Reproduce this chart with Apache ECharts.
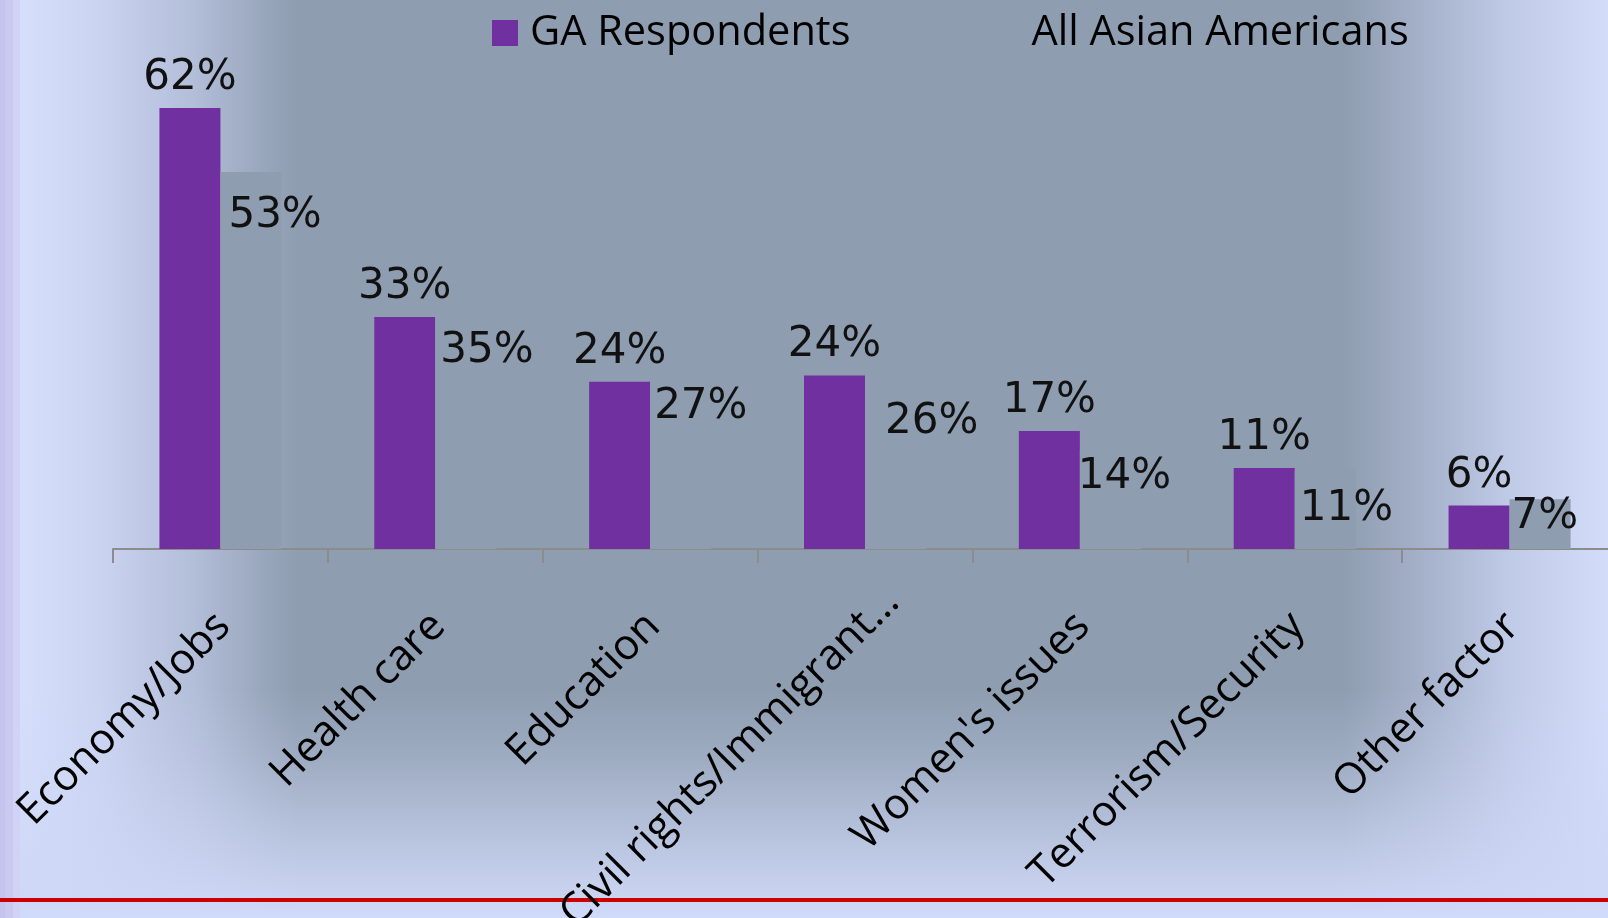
<!DOCTYPE html>
<html>
<head>
<meta charset="utf-8">
<script src="https://cdn.jsdelivr.net/npm/echarts@6/dist/echarts.min.js"></script>
<style>
html,body{margin:0;padding:0;background:#d3ddfa;}
#c{width:1608px;height:918px;}
</style>
</head>
<body>
<div id="c"></div>
<script>
// ---- data ----
const categories = ['Economy/Jobs', 'Health care', 'Education', 'Civil rights/Immigrant\u2026', "Women's issues", 'Terrorism/Security', 'Other factor'];
const seriesNames = ['GA Respondents', 'All Asian Americans'];
const gaRespondents = [62, 32.6, 23.5, 24.4, 16.6, 11.4, 6.1];
const allAsianAmericans = [53, 35, 27, 26, 14, 11, 7];

// ---- layout nudges (not data) ----
const labelNudge = [[8, 23], [5, 30], [4, 29], [20, 37], [-2, 7], [5, 17], [2, -3]];
const catLabelStyleKey = ['n', 'n', 'n', 'c', 'n', 'n', 'n'];

const chart = echarts.init(document.getElementById('c'), null, {renderer: 'canvas'});
const W = 1608, H = 918;

const pct = p => Math.round(p.value) + '%';
const catFont = {fontFamily: 'Open Sans', fontSize: 42.5, color: '#000'};

const option = {
  backgroundColor: 'transparent',
  animation: false,
  graphic: [
    {type: 'rect', z: -100, shape: {x: 0, y: 0, width: W, height: H}, silent: true,
     style: {fill: new echarts.graphic.LinearGradient(0, 0, 1, 0, [
       {offset: 0, color: '#d6e0fc'},
       {offset: 0.015, color: '#d5dffc'},
       {offset: 0.06, color: '#cbd4f1'},
       {offset: 0.12, color: '#b3bed9'},
       {offset: 0.165, color: '#98a6bb'},
       {offset: 0.185, color: '#8e9db0'},
       {offset: 0.835, color: '#8e9db0'},
       {offset: 0.88, color: '#a3afc7'},
       {offset: 0.94, color: '#c0cbe8'},
       {offset: 1, color: '#d3ddfa'}
     ])}},
    {type: 'rect', z: -90, shape: {x: 0, y: 690, width: W, height: 228}, silent: true,
     style: {fill: new echarts.graphic.LinearGradient(0, 0, 0, 1, [
       {offset: 0, color: 'rgba(206,216,246,0)'},
       {offset: 0.3, color: 'rgba(206,216,246,0.25)'},
       {offset: 0.6, color: 'rgba(206,216,246,0.6)'},
       {offset: 0.92, color: 'rgba(206,216,246,0.95)'},
       {offset: 1, color: 'rgba(208,218,250,1)'}
     ])}},
    {type: 'rect', z: -80, shape: {x: 0, y: 0, width: 5, height: H}, silent: true, style: {fill: '#c4c4ee'}},
    {type: 'rect', z: -80, shape: {x: 5, y: 0, width: 8, height: H}, silent: true, style: {fill: '#cacaf1'}},
    {type: 'rect', z: -80, shape: {x: 13, y: 0, width: 7, height: H}, silent: true, style: {fill: '#d0d2f6'}},
    {type: 'rect', z: -70, shape: {x: 0, y: 898, width: W, height: 4}, silent: true, style: {fill: '#cc0000'}}
  ],
  legend: {
    data: seriesNames,
    left: 487,
    top: 7,
    itemWidth: 26,
    itemHeight: 26,
    itemGap: 143,
    icon: 'rect',
    textStyle: {fontFamily: 'Open Sans', fontSize: 41.5, color: '#000', padding: [0, 0, 0, 7]}
  },
  grid: {left: 113, right: -9, top: 51, bottom: 369, containLabel: false, outerBoundsMode: 'none'},
  xAxis: {
    type: 'category',
    data: categories,
    axisLine: {lineStyle: {color: '#8c8c8c', width: 2}},
    axisTick: {show: true, length: 14, lineStyle: {color: '#8c8c8c', width: 2}},
    axisLabel: Object.assign({
      interval: 0, rotate: 45, margin: 19.4, verticalAlign: 'top', padding: [17, 0, 0, 0],
      formatter: (v, i) => '{' + catLabelStyleKey[i] + '|' + v + '}',
      rich: {
        n: Object.assign({padding: [0, 34, 0, 0]}, catFont),
        c: Object.assign({padding: [0, 0, 0, 0]}, catFont)
      }
    }, catFont)
  },
  yAxis: {type: 'value', min: 0, max: 70, show: false, splitLine: {show: false}},
  series: [
    {
      name: seriesNames[0], type: 'bar', data: gaRespondents,
      barWidth: 61, barGap: '0%',
      itemStyle: {color: '#7030a0'},
      label: {show: true, position: 'top', distance: 9, formatter: pct,
              fontFamily: 'DejaVu Sans', fontSize: 42, color: '#111'}
    },
    {
      name: seriesNames[1], type: 'bar',
      data: allAsianAmericans.map((v, i) => ({value: v, label: {offset: labelNudge[i]}})),
      barWidth: 61,
      itemStyle: {color: '#8f9db0'},
      label: {show: true, position: 'insideTopLeft', distance: 0, formatter: pct,
              fontFamily: 'DejaVu Sans', fontSize: 42, color: '#111'}
    }
  ]
};
chart.setOption(option);
</script>
</body>
</html>
